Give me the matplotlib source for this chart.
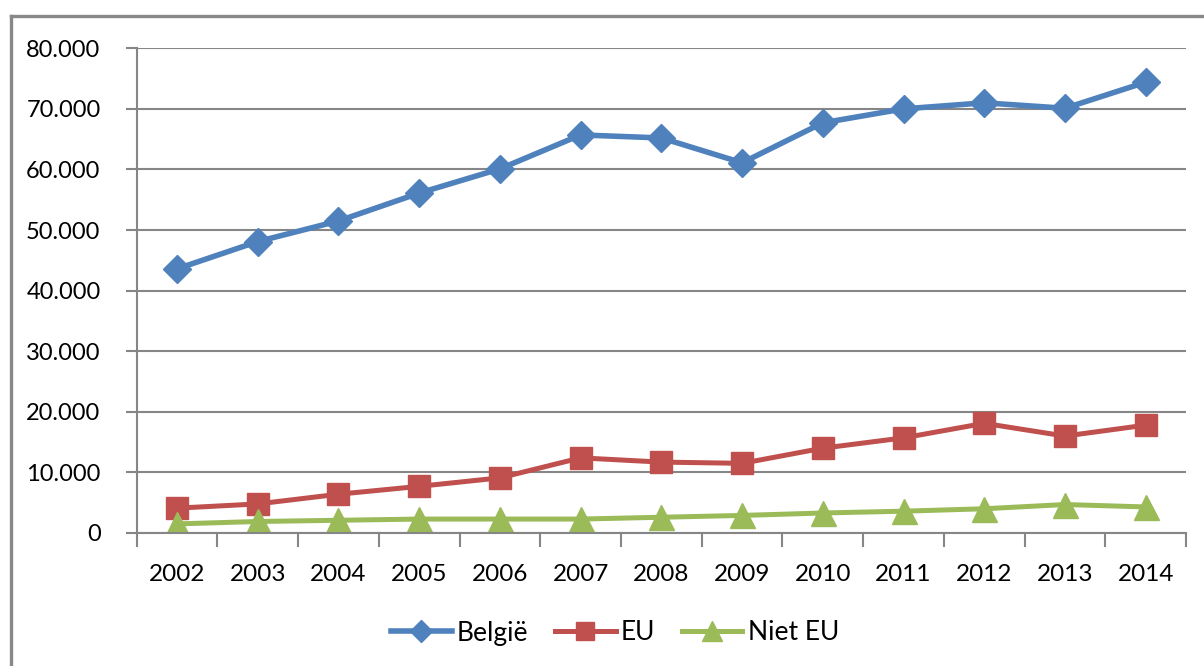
import matplotlib
matplotlib.use("Agg")
import matplotlib.pyplot as plt
from matplotlib.lines import Line2D
from matplotlib.ticker import FuncFormatter, MultipleLocator

years = ["2002", "2003", "2004", "2005", "2006", "2007", "2008",
         "2009", "2010", "2011", "2012", "2013", "2014"]
belgie = [43600, 48100, 51500, 56100, 60100, 65700, 65200,
          61100, 67700, 70000, 71000, 70100, 74400]
eu = [4100, 4800, 6400, 7700, 9100, 12400, 11700,
      11500, 14000, 15700, 18100, 16000, 17800]
niet_eu = [1500, 1900, 2100, 2300, 2300, 2300, 2600,
           2900, 3300, 3600, 4000, 4700, 4300]
series_names = ["België", "EU", "Niet EU"]

BLUE = "#4F81BD"
RED = "#C0504D"
GREEN = "#9BBB59"
GRID = "#868686"

plt.rcParams["font.family"] = ["Lato", "DejaVu Sans"]

fig = plt.figure(figsize=(12.04, 6.66), dpi=100)
ax = fig.add_axes([0.1135, 0.1997, 0.8716, 0.7278])

x = list(range(len(years)))
ax.plot(x, belgie, color=BLUE, lw=4, marker="D", ms=14, label=series_names[0])
ax.plot(x, eu, color=RED, lw=3.6, marker="s", ms=15.5, label=series_names[1])
ax.plot(x, niet_eu, color=GREEN, lw=3.6, marker="^", ms=18, label=series_names[2])

ax.set_xlim(-0.5, len(years) - 0.5)
ax.set_ylim(0, 80000)
ax.yaxis.set_major_locator(MultipleLocator(10000))
ax.yaxis.set_major_formatter(FuncFormatter(lambda v, p: f"{int(v):,}".replace(",", ".")))
ax.grid(axis="y", color=GRID, lw=1.5)
ax.set_axisbelow(True)

ax.set_xticks(x)
ax.set_xticklabels(years)
ax.set_xticks([i - 0.5 for i in range(len(years) + 1)], minor=True)
ax.tick_params(axis="x", which="major", length=0, pad=22, labelsize=17.5)
ax.tick_params(axis="x", which="minor", length=10, width=1.5, color=GRID, direction="out")
ax.tick_params(axis="y", length=8, width=1.5, color=GRID, pad=18, labelsize=17)

for s in ["top", "right"]:
    ax.spines[s].set_visible(False)
for s in ["left", "bottom"]:
    ax.spines[s].set_color(GRID)
    ax.spines[s].set_linewidth(1.5)

fig.legend(loc="center", bbox_to_anchor=(615 / 1204, 1 - 633 / 666), ncol=3,
           frameon=False, fontsize=19, handlelength=2.3, handletextpad=0.2,
           columnspacing=1.0, markerscale=0.8)

# outer chart frame
fig.add_artist(Line2D([10.5 / 1204, 1], [1 - 15.5 / 666, 1 - 15.5 / 666],
                      transform=fig.transFigure, color="#888888", lw=2.4))
fig.add_artist(Line2D([10.5 / 1204, 10.5 / 1204], [0, 1 - 15.5 / 666],
                      transform=fig.transFigure, color="#888888", lw=2.4))

fig.savefig("out.png", dpi=100)
